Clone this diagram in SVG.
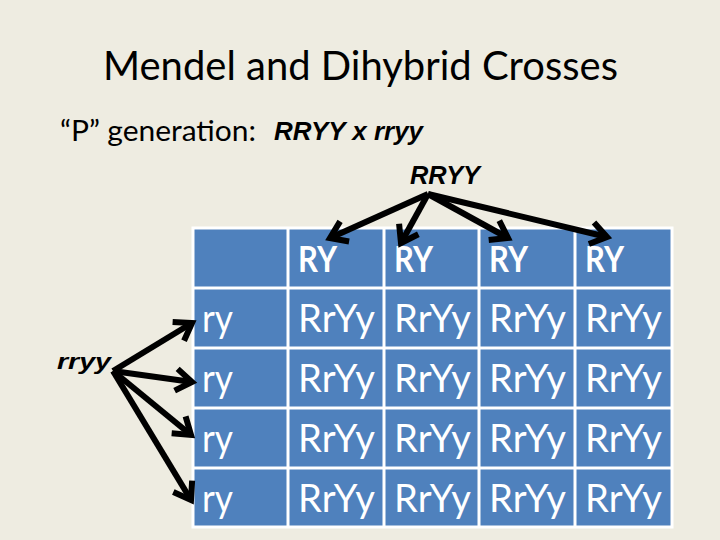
<svg xmlns="http://www.w3.org/2000/svg" width="720" height="540" viewBox="0 0 720 540">
<style>
.bg{fill:#EEECE1}
.cell{fill:#4F81BD}
.grid{stroke:#FFFFFF;stroke-width:3;fill:none}
.t{font-family:Lato,"Noto Sans","Liberation Sans",sans-serif;fill:#000}
.bi{font-family:"Liberation Sans",Arial,sans-serif;font-weight:bold;font-style:italic;fill:#000}
.hd{font-family:Lato,"Noto Sans","Liberation Sans",sans-serif;font-weight:bold;font-size:37px;fill:#FFFFFF}
.cl{font-family:Lato,"Noto Sans","Liberation Sans",sans-serif;font-size:38px;fill:#FFFFFF}
.arr{stroke:#000;stroke-width:6;fill:none;marker-end:url(#ah)}
</style>
<defs>
<marker id="ah" markerUnits="userSpaceOnUse" markerWidth="40" markerHeight="40" refX="0" refY="0" viewBox="-25 -20 30 40" orient="auto" overflow="visible">
<path d="M-16,-11 L0,0 L-16,11" stroke="#000" stroke-width="6" fill="none" stroke-linejoin="miter"/>
</marker>
</defs>
<rect class="bg" x="0" y="0" width="720" height="540"/>
<g id="title"><text class="t" x="103" y="80" font-size="41" textLength="515" lengthAdjust="spacingAndGlyphs">Mendel and Dihybrid Crosses</text></g>
<g id="p-generation">
<text class="t" x="60" y="141" font-size="29" textLength="196" lengthAdjust="spacingAndGlyphs">“P” generation:</text>
<text class="bi" x="274" y="140" font-size="25" textLength="149" lengthAdjust="spacingAndGlyphs">RRYY x rryy</text>
</g>
<g id="parent-RRYY"><text class="bi" x="410" y="184" font-size="25" textLength="70" lengthAdjust="spacingAndGlyphs">RRYY</text></g>
<g id="parent-rryy"><text class="bi" x="57" y="369" font-size="22" textLength="54" lengthAdjust="spacingAndGlyphs">rryy</text></g>
<g id="punnett-square">
<rect class="cell" x="193" y="228" width="479" height="299"/>
<path class="grid" d="M193,228H672V527H193Z M288,228V527 M384,228V527 M479,228V527 M575,228V527 M193,288H672 M193,348H672 M193,408H672 M193,468H672"/>
<g id="header">
<text class="hd" x="298" y="272" textLength="39" lengthAdjust="spacingAndGlyphs">RY</text>
<text class="hd" x="394" y="272" textLength="39" lengthAdjust="spacingAndGlyphs">RY</text>
<text class="hd" x="489" y="272" textLength="39" lengthAdjust="spacingAndGlyphs">RY</text>
<text class="hd" x="585" y="272" textLength="39" lengthAdjust="spacingAndGlyphs">RY</text>
</g>
<g id="row-labels">
<text class="cl" x="202" y="332" textLength="31" lengthAdjust="spacingAndGlyphs">ry</text>
<text class="cl" x="202" y="392" textLength="31" lengthAdjust="spacingAndGlyphs">ry</text>
<text class="cl" x="202" y="452" textLength="31" lengthAdjust="spacingAndGlyphs">ry</text>
<text class="cl" x="202" y="512" textLength="31" lengthAdjust="spacingAndGlyphs">ry</text>
</g>
<g id="cells">
<text class="cl" x="298" y="332" textLength="77" lengthAdjust="spacingAndGlyphs">RrYy</text>
<text class="cl" x="394" y="332" textLength="77" lengthAdjust="spacingAndGlyphs">RrYy</text>
<text class="cl" x="489" y="332" textLength="77" lengthAdjust="spacingAndGlyphs">RrYy</text>
<text class="cl" x="585" y="332" textLength="77" lengthAdjust="spacingAndGlyphs">RrYy</text>
<text class="cl" x="298" y="392" textLength="77" lengthAdjust="spacingAndGlyphs">RrYy</text>
<text class="cl" x="394" y="392" textLength="77" lengthAdjust="spacingAndGlyphs">RrYy</text>
<text class="cl" x="489" y="392" textLength="77" lengthAdjust="spacingAndGlyphs">RrYy</text>
<text class="cl" x="585" y="392" textLength="77" lengthAdjust="spacingAndGlyphs">RrYy</text>
<text class="cl" x="298" y="452" textLength="77" lengthAdjust="spacingAndGlyphs">RrYy</text>
<text class="cl" x="394" y="452" textLength="77" lengthAdjust="spacingAndGlyphs">RrYy</text>
<text class="cl" x="489" y="452" textLength="77" lengthAdjust="spacingAndGlyphs">RrYy</text>
<text class="cl" x="585" y="452" textLength="77" lengthAdjust="spacingAndGlyphs">RrYy</text>
<text class="cl" x="298" y="512" textLength="77" lengthAdjust="spacingAndGlyphs">RrYy</text>
<text class="cl" x="394" y="512" textLength="77" lengthAdjust="spacingAndGlyphs">RrYy</text>
<text class="cl" x="489" y="512" textLength="77" lengthAdjust="spacingAndGlyphs">RrYy</text>
<text class="cl" x="585" y="512" textLength="77" lengthAdjust="spacingAndGlyphs">RrYy</text>
</g>
</g>
<g id="connectors">
<line class="arr" x1="428" y1="194" x2="330" y2="238"/>
<line class="arr" x1="428" y1="194" x2="401" y2="243"/>
<line class="arr" x1="428" y1="194" x2="508" y2="238"/>
<line class="arr" x1="428" y1="194" x2="607" y2="237"/>
<line class="arr" x1="113" y1="371" x2="192" y2="323"/>
<line class="arr" x1="113" y1="371" x2="192" y2="382"/>
<line class="arr" x1="113" y1="371" x2="191" y2="435"/>
<line class="arr" x1="113" y1="371" x2="191" y2="500"/>
</g>
</svg>
